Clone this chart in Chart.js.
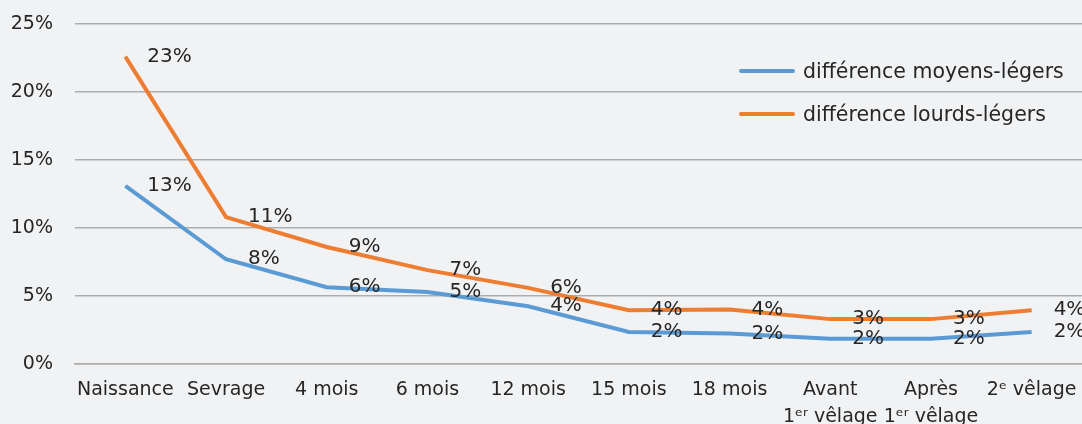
<!DOCTYPE html>
<html lang="fr">
<head>
<meta charset="utf-8">
<title>Différences de poids</title>
<script src="https://cdn.jsdelivr.net/npm/chart.js@4.4.1/dist/chart.umd.min.js"></script>
<style>
    html, body {
        margin: 0;
        padding: 0;
        background: #f1f2f4;
    }
    #wrap {
        position: relative;
        width: 1082px;
        height: 424px;
        overflow: hidden;
    }
    .legend {
        position: absolute;
        left: 739px;
        font-family: "DejaVu Sans", sans-serif;
        font-size: 20.5px;
        color: #262626;
        display: flex;
        align-items: center;
        white-space: nowrap;
    }
    .legend span.swatch {
        display: inline-block;
        width: 56px;
        height: 4px;
        border-radius: 2px;
        margin-right: 8px;
    }
</style>
</head>
<body>
<div id="wrap">
    <canvas id="diffChart" width="1082" height="424"></canvas>
    <div class="legend" style="top: 59px;"><span class="swatch" style="background:#5b9bd5"></span>différence moyens-légers</div>
    <div class="legend" style="top: 102px;"><span class="swatch" style="background:#ed7d31"></span>différence lourds-légers</div>
</div>
<script>
// Data (values in %)
const categories = [
    'Naissance', 'Sevrage', '4 mois', '6 mois', '12 mois', '15 mois', '18 mois',
    ['Avant', '1ᵉʳ vêlage'], ['Après', '1ᵉʳ vêlage'], '2ᵉ vêlage'
];
const moyensLegers = [13.1, 7.7, 5.65, 5.3, 4.25, 2.35, 2.25, 1.85, 1.85, 2.35];
const lourdsLegers = [22.6, 10.8, 8.6, 6.9, 5.6, 3.95, 4.0, 3.3, 3.3, 3.95];
const yTicks = [0, 5, 10, 15, 20, 25];

const textColor = '#262626';
const fontFamily = '"DejaVu Sans", sans-serif';

// Draw rounded value labels to the right of each point
const valueLabels = {
    id: 'valueLabels',
    afterDatasetsDraw(chart) {
        const ctx = chart.ctx;
        ctx.save();
        ctx.font = '20px ' + fontFamily;
        ctx.fillStyle = textColor;
        ctx.textAlign = 'left';
        ctx.textBaseline = 'middle';
        chart.data.datasets.forEach((ds, i) => {
            const meta = chart.getDatasetMeta(i);
            meta.data.forEach((pt, j) => {
                ctx.fillText(Math.round(ds.data[j]) + '%', pt.x + 22, pt.y);
            });
        });
        ctx.restore();
    }
};

const diffChart = new Chart(document.getElementById('diffChart'), {
    type: 'line',
    data: {
        labels: categories,
        datasets: [
            {
                label: 'différence moyens-légers',
                data: moyensLegers,
                borderColor: '#5b9bd5',
                borderWidth: 4,
                pointRadius: 0,
                tension: 0
            },
            {
                label: 'différence lourds-légers',
                data: lourdsLegers,
                borderColor: '#ed7d31',
                borderWidth: 4,
                pointRadius: 0,
                tension: 0
            }
        ]
    },
    options: {
        responsive: false,
        animation: false,
        layout: {
            padding: { top: 24, right: -4, bottom: 0, left: 0 }
        },
        plugins: {
            legend: { display: false },
            tooltip: { enabled: false }
        },
        scales: {
            x: {
                offset: true,
                grid: { display: false, drawTicks: false },
                border: { color: '#adadad', width: 1.5 },
                ticks: {
                    color: textColor,
                    font: { family: fontFamily, size: 19, lineHeight: 1.4 },
                    padding: 13,
                    maxRotation: 0,
                    autoSkip: false
                },
                afterFit(scale) {
                    scale.height = 60;
                    scale.paddingLeft = 0;
                    scale.paddingRight = 0;
                }
            },
            y: {
                min: 0,
                max: 25,
                afterBuildTicks(scale) {
                    scale.ticks = yTicks.map(v => ({ value: v }));
                },
                grid: { color: '#adadad', lineWidth: 1.5, drawTicks: false },
                border: { display: false },
                ticks: {
                    color: textColor,
                    font: { family: fontFamily, size: 19 },
                    padding: 22,
                    callback: v => v + '%'
                },
                afterFit(scale) {
                    scale.width = 75;
                    scale.paddingTop = 0;
                    scale.paddingBottom = 0;
                }
            }
        }
    },
    plugins: [valueLabels]
});
</script>
</body>
</html>
